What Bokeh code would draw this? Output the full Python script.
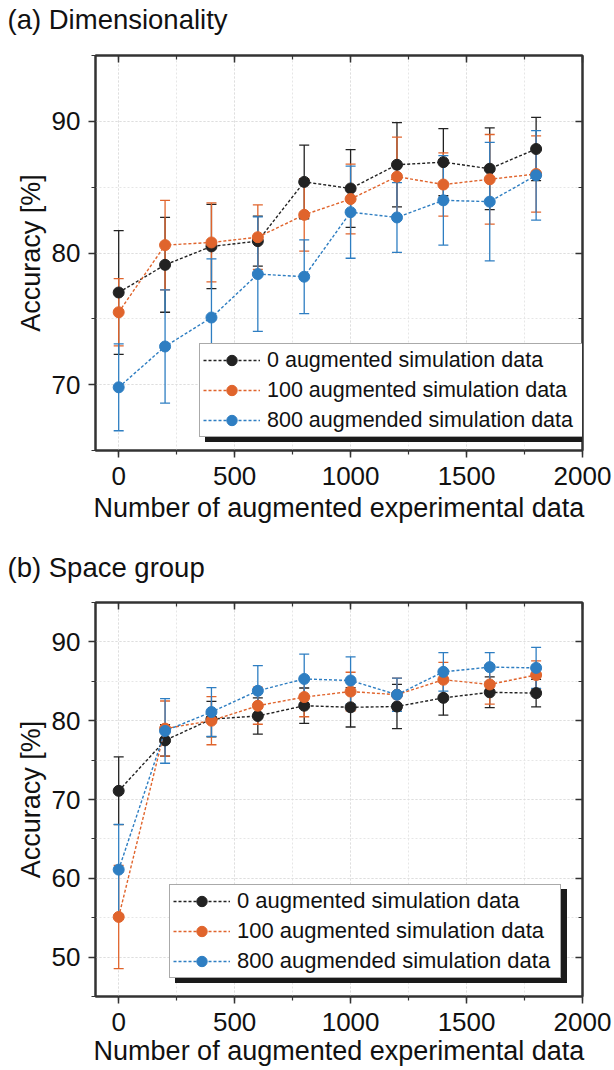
from bokeh.plotting import figure
from bokeh.models import (ColumnDataSource, Whisker, TeeHead, Legend, LegendItem,
                          LinearAxis, Range1d, SingleIntervalTicker, CustomJSTickFormatter)
from bokeh.layouts import column
from bokeh.embed import file_html
from bokeh.resources import INLINE

# ---------------- data ----------------
x_exp = [0, 200, 400, 600, 800, 1000, 1200, 1400, 1600, 1800]

labels = ["0 augmented simulation data",
          "100 augmented simulation data",
          "800 augmended simulation data"]
colors = ["#222222", "#e0642c", "#2e7ec2"]

# (a) Dimensionality
dim_sim0 = [77.0, 79.1, 80.5, 80.9, 85.4, 84.9, 86.7, 86.9, 86.4, 87.9]
dim_sim0_err = [4.7, 3.6, 3.2, 1.9, 2.8, 2.95, 3.2, 2.55, 3.1, 2.4]
dim_sim100 = [75.5, 80.6, 80.8, 81.2, 82.9, 84.1, 85.8, 85.2, 85.6, 86.0]
dim_sim100_err = [2.55, 3.4, 3.0, 2.45, 2.75, 2.65, 3.0, 2.4, 3.4, 2.9]
dim_sim800 = [69.8, 72.9, 75.1, 78.4, 78.2, 83.1, 82.7, 84.0, 83.9, 85.9]
dim_sim800_err = [3.3, 4.3, 4.45, 4.35, 2.8, 3.5, 2.65, 3.4, 4.5, 3.4]

# (b) Space group
sg_sim0 = [71.1, 77.5, 80.2, 80.6, 81.9, 81.7, 81.8, 82.9, 83.6, 83.5]
sg_sim0_err = [4.3, 2.0, 2.25, 2.3, 2.25, 2.5, 2.8, 2.2, 1.95, 1.75]
sg_sim100 = [55.1, 79.0, 80.0, 81.9, 83.0, 83.7, 83.3, 85.2, 84.6, 85.8]
sg_sim100_err = [6.55, 3.5, 3.05, 2.35, 2.5, 2.45, 2.1, 2.2, 2.5, 1.8]
sg_sim800 = [61.1, 78.7, 81.1, 83.8, 85.3, 85.1, 83.3, 86.2, 86.8, 86.7]
sg_sim800_err = [5.75, 4.1, 3.1, 3.2, 3.15, 3.0, 2.1, 2.45, 1.85, 2.6]

FONT = "Liberation Sans"
FRAME = "#333333"


def style_axis(ax, inner=False):
    ax.axis_line_color = FRAME
    ax.axis_line_width = 2
    ax.major_tick_line_color = FRAME
    ax.minor_tick_line_color = FRAME
    ax.major_tick_line_width = 1.5
    ax.minor_tick_line_width = 1.2
    if inner:
        ax.major_tick_in = 7
        ax.major_tick_out = 0
        ax.minor_tick_in = 4
        ax.minor_tick_out = 0
        ax.formatter = CustomJSTickFormatter(code="return ''")
        ax.major_label_text_font_size = "1px"
        ax.major_label_standoff = 0
    else:
        ax.major_tick_in = 0
        ax.major_tick_out = 7
        ax.minor_tick_in = 0
        ax.minor_tick_out = 4
        ax.major_label_text_font = FONT
        ax.major_label_text_font_size = "26px"
        ax.major_label_text_color = "#111111"
        ax.axis_label_text_font = FONT
        ax.axis_label_text_font_size = "27px"
        ax.axis_label_text_font_style = "normal"
        ax.axis_label_text_color = "#111111"


def make_panel(title, ys, errs, y_lo, y_hi, height, b_top, b_bottom,
               leg_loc, leg_font, leg_label_w, x_title_standoff, top_gap):
    p = figure(width=614, height=height, output_backend="svg", toolbar_location=None,
               x_range=Range1d(-100, 2000), y_range=Range1d(y_lo, y_hi),
               min_border_left=95, min_border_right=32,
               min_border_top=b_top, min_border_bottom=b_bottom)
    p.title.text = title
    p.title.text_font = FONT
    p.title.text_font_size = "27.5px"
    p.title.text_font_style = "normal"
    p.title.text_color = "#111111"
    p.title.align = "left"
    p.title.vertical_align = "top"
    p.title.offset = -88
    p.title.standoff = 0

    p.outline_line_color = FRAME
    p.outline_line_width = 2

    p.xaxis.ticker = SingleIntervalTicker(interval=500, num_minor_ticks=2)
    p.yaxis.ticker = SingleIntervalTicker(interval=10, num_minor_ticks=2)
    p.xaxis.axis_label = "Number of augmented experimental data"
    p.yaxis.axis_label = "Accuracy [%]"
    style_axis(p.xaxis[0])
    style_axis(p.yaxis[0])
    p.xaxis.major_label_standoff = 9
    p.xaxis.axis_label_standoff = x_title_standoff
    p.yaxis.major_label_standoff = 8
    p.yaxis.axis_label_standoff = 3

    top = LinearAxis(ticker=SingleIntervalTicker(interval=500, num_minor_ticks=2))
    right = LinearAxis(ticker=SingleIntervalTicker(interval=10, num_minor_ticks=2))
    style_axis(top, inner=True)
    style_axis(right, inner=True)
    p.add_layout(top, "above")
    p.add_layout(right, "right")

    # invisible spacer axis: keeps the title clear of the frame
    spacer = LinearAxis(ticker=SingleIntervalTicker(interval=500, num_minor_ticks=0),
                        formatter=CustomJSTickFormatter(code="return ''"),
                        major_label_text_font_size="1px", major_label_standoff=0,
                        axis_line_alpha=0, major_tick_line_alpha=0,
                        minor_tick_line_alpha=0, major_tick_in=0,
                        major_tick_out=top_gap, minor_tick_out=0)
    p.add_layout(spacer, "above")

    for g in (p.xgrid, p.ygrid):
        g.grid_line_color = "#dedede"
        g.grid_line_dash = "2 2"
        g.grid_line_width = 1
        g.minor_grid_line_color = "#e6e6e6"
        g.minor_grid_line_dash = "2 2"
        g.minor_grid_line_width = 1

    items = []
    shadow_items = []
    for lab, col, y, e in zip(labels, colors, ys, errs):
        src = ColumnDataSource(dict(
            x=x_exp, y=y,
            upper=[a + b for a, b in zip(y, e)],
            lower=[a - b for a, b in zip(y, e)]))
        w = Whisker(source=src, base="x", upper="upper", lower="lower",
                    line_color=col, line_width=1.3,
                    upper_head=TeeHead(size=10, line_color=col, line_width=1.3),
                    lower_head=TeeHead(size=10, line_color=col, line_width=1.3))
        p.add_layout(w)
        lr = p.line("x", "y", source=src, line_color=col, line_width=1.4, line_dash="3 2")
        sr = p.scatter("x", "y", source=src, marker="circle", size=11,
                       fill_color=col, line_color=col)
        items.append(LegendItem(label=lab, renderers=[lr, sr]))
        shadow_items.append(LegendItem(label=" ", renderers=[lr]))

    common = dict(label_text_font=FONT, label_text_font_size=leg_font,
                  glyph_width=57, glyph_height=26, label_height=26,
                  label_width=leg_label_w,
                  label_standoff=7, padding=3, spacing=4, margin=0,
                  orientation="vertical")
    shadow = Legend(items=shadow_items, location=(leg_loc[0] + 6, leg_loc[1] - 5),
                    background_fill_color="#1a1a1a", background_fill_alpha=1.0,
                    border_line_color="#1a1a1a", label_text_alpha=0.0, **common)
    front = Legend(items=items, location=leg_loc,
                   background_fill_color="white", background_fill_alpha=1.0,
                   border_line_color="#555555", border_line_width=1,
                   label_text_color="#111111", **common)
    p.add_layout(shadow, "center")
    p.add_layout(front, "center")
    return p


p1 = make_panel("(a) Dimensionality",
                [dim_sim0, dim_sim100, dim_sim800],
                [dim_sim0_err, dim_sim100_err, dim_sim800_err],
                65, 95, 540, 55, 90, (104, 13), "21.5px", 312, 5, 19)
p2 = make_panel("(b) Space group",
                [sg_sim0, sg_sim100, sg_sim800],
                [sg_sim0_err, sg_sim100_err, sg_sim800_err],
                45, 95, 530, 62, 74, (74, 18), "22px", 320, 2, 18)

layout = column(p1, p2, spacing=0)
open("out.html", "w").write(file_html(layout, INLINE))
